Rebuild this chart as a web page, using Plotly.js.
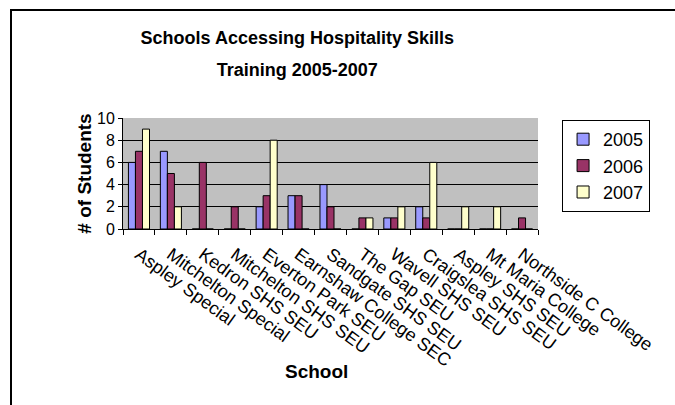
<!DOCTYPE html>
<html>
<head>
<meta charset="utf-8">
<script src="https://cdn.plot.ly/plotly-3.0.1.min.js"></script>
<style>
  html, body { margin: 0; padding: 0; background: #ffffff; }
  #frame { position: absolute; left: 10px; top: 9px; width: 720px; height: 460px; border: 2px solid #000; box-sizing: border-box; }
  #chart { position: absolute; left: 0; top: 0; width: 675px; height: 405px; }
</style>
</head>
<body>
<div id="frame"></div>
<div id="chart"></div>
<script>
const schools = [
  "Aspley Special", "Mitchelton Special", "Kedron SHS SEU", "Mitchelton SHS SEU",
  "Everton Park SEU", "Earnshaw College SEC", "Sandgate SHS SEU", "The Gap SEU",
  "Wavell SHS SEU", "Craigslea SHS SEU", "Aspley SHS SEU", "Mt Maria College",
  "Northside C College"
];
const students2005 = [6, 7, 0, 0, 2, 3, 4, 0, 1, 2, 0, 0, 0];
const students2006 = [7, 5, 6, 2, 3, 3, 2, 1, 1, 1, 0, 0, 1];
const students2007 = [9, 2, 0, 0, 8, 0, 0, 1, 2, 6, 2, 2, 0];
const yearNames = ["2005", "2006", "2007"];
const yTicks = [0, 2, 4, 6, 8, 10];
const titleLines = ["Schools Accessing Hospitality Skills", "Training 2005-2007"];
const xTitle = "School";
const yTitle = "# of Students";

const colors = ["#9999FF", "#993366", "#FFFFCC"];
const series = [students2005, students2006, students2007];

const traces = series.map((vals, i) => ({
  type: "bar",
  name: yearNames[i],
  x: schools,
  y: vals,
  marker: { color: colors[i], line: { color: "#000000", width: 1 } },
  hoverinfo: "x+y+name"
}));

const font = "Arial, 'Liberation Sans', sans-serif";

const layout = {
  width: 675,
  height: 405,
  paper_bgcolor: "rgba(0,0,0,0)",
  plot_bgcolor: "#C0C0C0",
  font: { family: font, color: "#000000" },
  margin: { l: 123, r: 137, t: 118, b: 176 },
  barmode: "group",
  bargap: 0.34,
  bargroupgap: 0,
  title: {
    text: titleLines.map(t => "<span style='font-size:18px'>" + t + "</span>").join("<br>"),
    font: { family: font, size: 24.5, weight: "bold", color: "#000" },
    x: 0.42, xanchor: "center", xref: "paper",
    y: 0.892, yanchor: "middle", yref: "container"
  },
  annotations: [{
    text: xTitle,
    xref: "paper", yref: "paper",
    x: 0.467, xanchor: "center",
    y: -1.288, yanchor: "middle",
    showarrow: false,
    font: { family: font, size: 19, weight: "bold", color: "#000" }
  }],
  xaxis: {
    type: "category",
    tickangle: 36,
    tickson: "boundaries",
    ticklabelstandoff: 7,
    tickfont: { family: font, size: 18, color: "#000" },
    ticks: "outside", ticklen: 5, tickcolor: "#000",
    showline: true, linecolor: "#000", linewidth: 1, mirror: false,
    showgrid: false,
    automargin: false
  },
  yaxis: {
    range: [0, 10],
    tickvals: yTicks,
    tickfont: { family: font, size: 16, color: "#000" },
    ticks: "outside", ticklen: 4, tickcolor: "#000",
    showline: true, linecolor: "#000", linewidth: 1,
    showgrid: true, gridcolor: "#000", gridwidth: 1,
    zeroline: false,
    title: { text: yTitle, font: { family: font, size: 19, weight: "bold" }, standoff: 0 },
    automargin: false
  },
  showlegend: true,
  legend: {
    x: 1.058, xanchor: "left",
    y: 0.982, yanchor: "top",
    bgcolor: "#FFFFFF",
    bordercolor: "#000000", borderwidth: 1,
    font: { family: font, size: 18, color: "#000" },
    traceorder: "normal"
  }
};

Plotly.newPlot("chart", traces, layout, { displayModeBar: false, staticPlot: true });
</script>
</body>
</html>
